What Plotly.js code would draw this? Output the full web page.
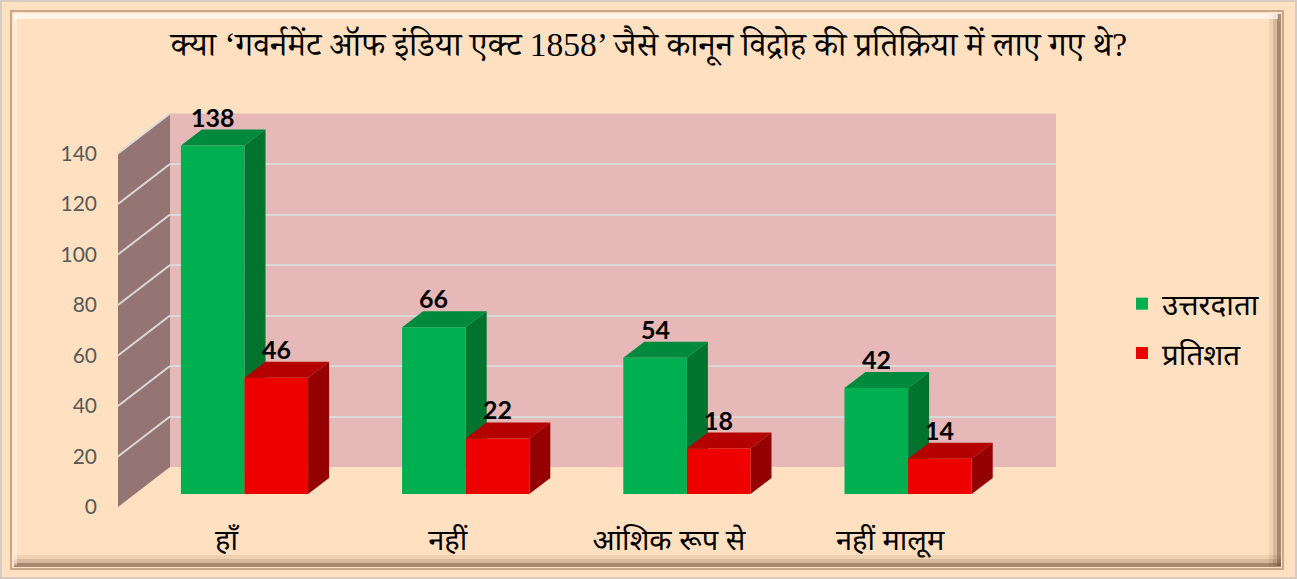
<!DOCTYPE html>
<html>
<head>
<meta charset="utf-8">
<script src="https://cdn.plot.ly/plotly-3.0.1.min.js"></script>
<style>html,body{margin:0;padding:0;background:#FFE1C2;}#chart{width:1297px;height:579px;}</style>
</head>
<body>
<div id="chart"></div>
<script>
// ---- data ----
const categories = ['हाँ', 'नहीं', 'आंशिक रूप से', 'नहीं मालूम'];
const respondents = [138, 66, 54, 42];
const percent = [46, 22, 18, 14];
const seriesNames = ['उत्तरदाता', 'प्रतिशत'];
const yTickVals = [0, 20, 40, 60, 80, 100, 120, 140];
const titleText = 'क्या ‘गवर्नमेंट ऑफ इंडिया एक्ट 1858’ जैसे कानून विद्रोह की प्रतिक्रिया में लाए गए थे?';

// ---- geometry / styling ----
const W = 1297, H = 579;
const fx = px => px / W;
const fy = py => 1 - py / H;
const S = 2.525;              // px per unit
const CAT = 221.2;            // px per category
const barW = 0.2875;          // bar width in category units
const depthX = 21 / CAT;      // bar depth in x units
const depthY = 16 / S;        // bar depth in y units
const devaSans = 'Noto Sans Devanagari, Lohit Devanagari, FreeSans, Mangal, sans-serif';
const devaSerif = 'Liberation Serif, Noto Serif Devanagari, FreeSerif, Kokila, serif';
const colors = {
  g: {front: '#00B050', top: '#008A3D', side: '#00732F'},
  r: {front: '#EE0000', top: '#B40000', side: '#940000'}
};

const traces = [
  {type: 'scatter', x: [0], y: [0], mode: 'none', showlegend: false, hoverinfo: 'skip', xaxis: 'x', yaxis: 'y'},
  {type: 'bar', name: seriesNames[0], x: categories, y: respondents, xaxis: 'x2', yaxis: 'y2',
   marker: {color: colors.g.front, line: {width: 0}}, legendgroup: 'a', hoverinfo: 'skip'},
  {type: 'bar', name: seriesNames[1], x: categories, y: percent, xaxis: 'x2', yaxis: 'y2',
   marker: {color: colors.r.front, line: {width: 0}}, legendgroup: 'b', hoverinfo: 'skip'},
  {type: 'scatter', x: [categories[0]], y: [0], mode: 'none', showlegend: false, hoverinfo: 'skip', xaxis: 'x2', yaxis: 'y3'}
];

const shapes = [];
// back wall fill
shapes.push({type: 'rect', xref: 'x domain', yref: 'y domain', x0: 0, x1: 1, y0: 0, y1: 1,
  fillcolor: '#E6B8B7', line: {width: 0}, layer: 'below'});
// left (side) wall
const wallFrontX = 118, wallBackX = 170, frontZero = 507, backZero = 467, wallTop = 140;
const pf = v => frontZero - v * S, pb = v => backZero - v * S;
shapes.push({type: 'path', xref: 'paper', yref: 'paper', layer: 'below', fillcolor: '#947574', line: {width: 0},
  path: `M${fx(wallFrontX)},${fy(pf(0))} L${fx(wallFrontX)},${fy(pf(wallTop))} L${fx(wallBackX)},${fy(pb(wallTop))} L${fx(wallBackX)},${fy(pb(0))} Z`});
yTickVals.forEach(v => {
  if (v === 0) return;
  shapes.push({type: 'line', xref: 'paper', yref: 'paper', layer: 'below',
    x0: fx(wallFrontX), y0: fy(pf(v)), x1: fx(wallBackX), y1: fy(pb(v)),
    line: {color: '#D9D9D9', width: 2}});
});
// 3D faces of bars
function faces(vals, offset, c) {
  vals.forEach((v, i) => {
    const xl = i + offset, xr = i + offset + barW;
    shapes.push({type: 'path', xref: 'x2', yref: 'y2', layer: 'between', fillcolor: c.side, line: {width: 0},
      path: `M${xr},0 L${xr},${v} L${xr + depthX},${v + depthY} L${xr + depthX},${depthY} Z`});
    shapes.push({type: 'path', xref: 'x2', yref: 'y2', layer: 'between', fillcolor: c.top, line: {width: 0},
      path: `M${xl},${v} L${xr},${v} L${xr + depthX},${v + depthY} L${xl + depthX},${v + depthY} Z`});
  });
}
faces(respondents, -barW, colors.g);
faces(percent, 0, colors.r);

// frame
shapes.push({type: 'rect', xref: 'paper', yref: 'paper', x0: fx(1), x1: fx(1296), y0: fy(1), y1: fy(578),
  line: {color: '#D6CCC2', width: 2}, layer: 'above'});
shapes.push({type: 'rect', xref: 'paper', yref: 'paper', x0: fx(11), x1: fx(1283), y0: fy(11), y1: fy(569),
  line: {color: '#C9A889', width: 2}, layer: 'above'});
[[1279, 4, 'rgba(95,65,40,0.55)'], [1275, 4, 'rgba(95,65,40,0.25)'], [1271, 4, 'rgba(95,65,40,0.1)']].forEach(([p, w, c]) => {
  shapes.push({type: 'line', xref: 'paper', yref: 'paper', x0: fx(p), x1: fx(p), y0: fy(14), y1: fy(566), line: {color: c, width: w}, layer: 'above'});
  shapes.push({type: 'line', xref: 'paper', yref: 'paper', x0: fx(14), x1: fx(1281), y0: fy(p - 714), y1: fy(p - 714), line: {color: c, width: w}, layer: 'above'});
});
shapes.push({type: 'line', xref: 'paper', yref: 'paper', x0: fx(14), x1: fx(1278), y0: fy(16), y1: fy(16), line: {color: 'rgba(255,255,255,0.6)', width: 6}, layer: 'above'});
shapes.push({type: 'line', xref: 'paper', yref: 'paper', x0: fx(15), x1: fx(15), y0: fy(14), y1: fy(565), line: {color: 'rgba(255,255,255,0.4)', width: 4}, layer: 'above'});

// value labels
const annotations = [];
function labels(vals, shift) {
  vals.forEach((v, i) => annotations.push({x: categories[i], y: v, xref: 'x2', yref: 'y2', text: String(v),
    showarrow: false, xshift: shift, yshift: 29, yanchor: 'middle',
    font: {family: 'Lato, sans-serif', size: 25, color: '#000', weight: 'bold'}}));
}
labels(respondents, -barW * CAT / 2);
labels(percent, barW * CAT / 2);

const layout = {
  width: W, height: H,
  margin: {l: 0, r: 0, t: 0, b: 0},
  paper_bgcolor: '#FFE1C2',
  plot_bgcolor: 'rgba(0,0,0,0)',
  title: {text: titleText, x: fx(649), xanchor: 'center', y: fy(44), yanchor: 'middle',
    font: {family: devaSerif, size: 33.5, color: '#000'}},
  barmode: 'group', bargap: 0.425, bargroupgap: 0,
  showlegend: true,
  legend: {x: fx(1122), y: fy(278), xanchor: 'left', yanchor: 'top', bgcolor: 'rgba(0,0,0,0)',
    font: {family: devaSans, size: 29.5, color: '#000'}, traceorder: 'grouped', tracegroupgap: 8},
  xaxis: {domain: [fx(170), fx(1056)], range: [0, 1], visible: false, fixedrange: true},
  yaxis: {domain: [fy(467), fy(467 - 140 * S)], range: [0, 140], dtick: 20, showgrid: true,
    gridcolor: '#D9D9D9', gridwidth: 2, zeroline: false, showticklabels: false, ticks: '', showline: false, fixedrange: true},
  xaxis2: {domain: [fx(244.5 - CAT / 2), fx(244.5 + CAT * 3.5)], range: [-0.5, 3.5], anchor: 'y2', type: 'category',
    showgrid: false, zeroline: false, showline: false, ticks: '', ticklabelshift: -18, ticklabelstandoff: 1,
    tickfont: {family: devaSans, size: 29, color: '#000'}, fixedrange: true},
  yaxis2: {domain: [fy(494 + 10 * S), fy(494 - 160 * S)], range: [-10, 160], anchor: 'x2', visible: false, fixedrange: true},
  yaxis3: {overlaying: 'y2', anchor: 'free', position: fx(97), side: 'left', range: [-10 + 13 / S, 160 + 13 / S],
    tickvals: yTickVals, showgrid: false, zeroline: false, showline: false, ticks: '',
    tickfont: {family: 'Lato, sans-serif', size: 21, color: '#595959'}, fixedrange: true},
  shapes: shapes,
  annotations: annotations
};

Plotly.newPlot('chart', traces, layout, {displayModeBar: false, staticPlot: true});
</script>
</body>
</html>
